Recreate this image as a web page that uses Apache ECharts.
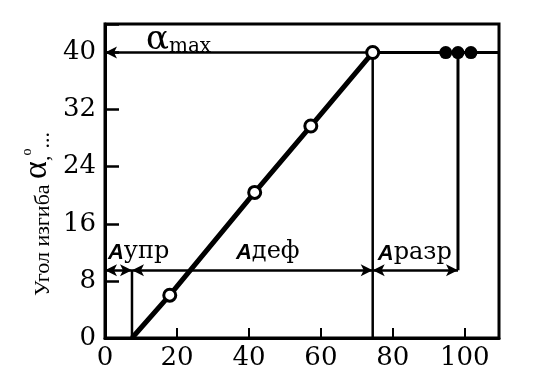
<!DOCTYPE html>
<html><head><meta charset="utf-8">
<script src="https://cdn.jsdelivr.net/npm/echarts@6/dist/echarts.min.js"></script>
<style>html,body{margin:0;padding:0;background:#fff}#c{width:539px;height:386px}</style>
</head><body><div id="c"></div>
<script>
// ---- data ----
const xTicks = [0, 20, 40, 60, 80, 100];
const yTicks = [0, 8, 16, 24, 32, 40];
const mainX = [7.5, 18, 41.6, 57.2, 74.4];
const mainY = [0, 6, 20.4, 29.7, 40];
const alphaMax = 40;
const levelA = 9.5;
const xElastic = 7.5;
const xDef = 74.4;
const xFail = 98.1;
const plateauEnd = 109.5;
const failX = [94.7, 98.1, 101.7];
const failY = [40, 40, 40];
const annoX = [0.8, 36.4, 75.8, 11.4];
const annoY = [12.4, 12.3, 12.2, 41.9];
const annoSub = ['упр', 'деф', 'разр', 'max'];
const annoMain = ['A', 'A', 'A', 'α'];

const K = '#000';
const chart = echarts.init(document.getElementById('c'), null, {renderer: 'canvas'});

const arrowPairs = [
  [[0, levelA], [xElastic, levelA], 'arrow', 'arrow'],
  [[xElastic, levelA], [xDef, levelA], 'arrow', 'arrow'],
  [[xDef, levelA], [xFail, levelA], 'arrow', 'arrow'],
  [[xDef, alphaMax], [0, alphaMax], 'none', 'arrow']
];

const option = {
  animation: false,
  grid: {left: 105, right: 40, top: 24, bottom: 48, show: true, borderColor: K, borderWidth: 3, backgroundColor: 'transparent'},
  xAxis: {
    type: 'value', min: 0, max: plateauEnd, interval: 20,
    axisLine: {show: true, lineStyle: {color: K, width: 3}},
    axisTick: {show: true, inside: true, length: 10, lineStyle: {color: K, width: 2}},
    axisLabel: {color: K, fontFamily: 'DejaVu Serif', fontSize: 26, margin: 7,
      formatter: v => xTicks.includes(v) ? String(v) : ''},
    splitLine: {show: false}
  },
  yAxis: {
    type: 'value', min: 0, max: 44, interval: 8,
    axisLine: {show: true, lineStyle: {color: K, width: 3}},
    axisTick: {show: true, inside: true, length: 14, lineStyle: {color: K, width: 2.5}},
    axisLabel: {color: K, fontFamily: 'DejaVu Serif', fontSize: 26, margin: 9,
      formatter: v => yTicks.includes(v) ? String(v) : ''},
    splitLine: {show: false}
  },
  graphic: [{
    type: 'text', x: 37, y: 214, rotation: Math.PI / 2,
    style: {
      text: '{t|Угол изгиба }{a|α}{t|,}{d|o}{t|...}',
      align: 'center', verticalAlign: 'middle',
      rich: {
        t: {fontFamily: 'Liberation Serif', fontSize: 22, fill: K, verticalAlign: 'bottom'},
        a: {fontFamily: 'Liberation Serif', fontSize: 34, fill: K, verticalAlign: 'bottom'},
        d: {fontFamily: 'Liberation Serif', fontSize: 14, fill: K, verticalAlign: 'top'}
      }
    }
  }],
  series: [
    {type: 'line', data: [[xElastic, 0], [xElastic, levelA]], symbol: 'none', lineStyle: {color: K, width: 2.5}, z: 2},
    {type: 'line', data: [[xDef, 0], [xDef, alphaMax]], symbol: 'none', lineStyle: {color: K, width: 2.5}, z: 2},
    {type: 'line', data: [[xFail, levelA], [xFail, alphaMax]], symbol: 'none', lineStyle: {color: K, width: 3}, z: 2},
    {type: 'line', data: [[xDef, alphaMax], [plateauEnd, alphaMax]], symbol: 'none', lineStyle: {color: K, width: 3}, z: 2},
    {
      type: 'line', data: [], z: 2,
      markLine: {
        silent: true, animation: false, symbolSize: [9, 12],
        lineStyle: {color: K, width: 2.5, type: 'solid'},
        itemStyle: {color: K},
        label: {show: false},
        data: arrowPairs.map(a => [
          {coord: a[0], symbol: a[2]},
          {coord: a[1], symbol: a[3]}
        ])
      }
    },
    {
      type: 'line', z: 5,
      data: mainX.map((x, i) => ({value: [x, mainY[i]], symbol: i === 0 ? 'none' : 'circle'})),
      symbolSize: 12, showAllSymbol: true,
      lineStyle: {color: K, width: 5},
      itemStyle: {color: '#fff', borderColor: K, borderWidth: 3}
    },
    {
      type: 'scatter', z: 6, symbol: 'circle', symbolSize: 13,
      data: failX.map((x, i) => [x, failY[i]]),
      itemStyle: {color: K, opacity: 1}
    },
    {
      type: 'scatter', z: 7, symbolSize: 0,
      data: annoX.map((x, i) => [x, annoY[i]]),
      itemStyle: {opacity: 1},
      label: {
        show: true, position: 'right', distance: 0, color: K,
        formatter: p => (annoMain[p.dataIndex] === 'A' ? '{A|A}{s|' : '{al|α}{m|') + annoSub[p.dataIndex] + '}',
        rich: {
          A: {fontFamily: 'Liberation Sans', fontWeight: 'bold', fontStyle: 'italic', fontSize: 22, color: K, verticalAlign: 'bottom', lineHeight: 28},
          s: {fontFamily: 'DejaVu Serif', fontSize: 24, color: K, verticalAlign: 'bottom', lineHeight: 28},
          al: {fontFamily: 'DejaVu Serif', fontSize: 34, color: K, verticalAlign: 'bottom', lineHeight: 36},
          m: {fontFamily: 'DejaVu Serif', fontSize: 20, color: K, verticalAlign: 'bottom', lineHeight: 30}
        }
      }
    }
  ]
};
chart.setOption(option);
</script>
</body></html>
